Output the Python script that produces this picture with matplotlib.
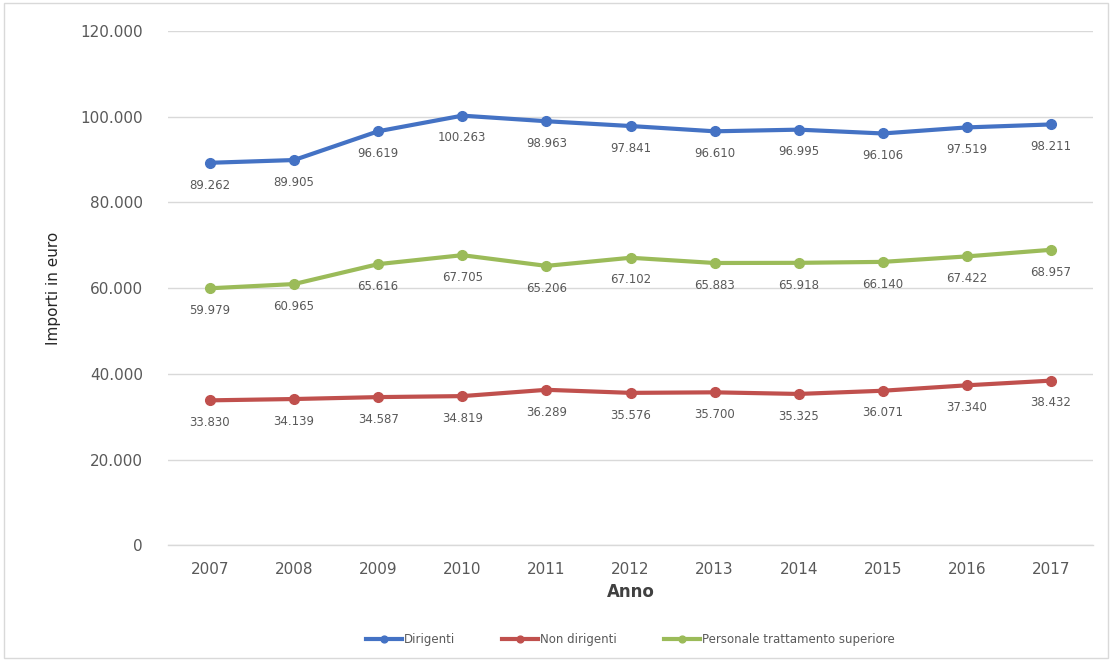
import matplotlib.pyplot as plt
from matplotlib.ticker import FuncFormatter
from matplotlib.patches import Rectangle

anni = ["2007", "2008", "2009", "2010", "2011", "2012", "2013", "2014", "2015", "2016", "2017"]
dirigenti = [89262, 89905, 96619, 100263, 98963, 97841, 96610, 96995, 96106, 97519, 98211]
non_dirigenti = [33830, 34139, 34587, 34819, 36289, 35576, 35700, 35325, 36071, 37340, 38432]
personale_sup = [59979, 60965, 65616, 67705, 65206, 67102, 65883, 65918, 66140, 67422, 68957]

serie = [
    ("Dirigenti", dirigenti, "#4472C4"),
    ("Non dirigenti", non_dirigenti, "#C0504D"),
    ("Personale trattamento superiore", personale_sup, "#9BBB59"),
]

def fmt_it(v):
    return f"{int(round(v)):,}".replace(",", ".")

fig = plt.figure(figsize=(11.12, 6.61), dpi=100)
ax = fig.add_axes([0.151, 0.175, 0.832, 0.778])
fig.patches.append(Rectangle((0.004, 0.004), 0.992, 0.992, transform=fig.transFigure,
                             fill=False, edgecolor="#D9D9D9", linewidth=1))

x = list(range(len(anni)))
for nome, valori, colore in serie:
    ax.plot(x, valori, color=colore, linewidth=3, marker="o", markersize=7, label=nome)
    for xi, v in zip(x, valori):
        ax.annotate(fmt_it(v), (xi, v), xytext=(0, -16), textcoords="offset points",
                    ha="center", va="center", fontsize=8.5, color="#595959")

ax.set_ylim(0, 120000)
ax.set_yticks(range(0, 120001, 20000))
ax.yaxis.set_major_formatter(FuncFormatter(lambda v, p: fmt_it(v)))
ax.set_xlim(-0.5, len(anni) - 0.5)
ax.set_xticks(x)
ax.set_xticklabels(anni)
ax.tick_params(axis="both", length=0, labelsize=11, colors="#595959")
ax.tick_params(axis="y", pad=18)
ax.tick_params(axis="x", pad=12)
ax.grid(axis="y", color="#D9D9D9", linewidth=1)
ax.axhline(0, color="#D9D9D9", linewidth=1, zorder=0.5, clip_on=False)
ax.set_axisbelow(True)
for s in ax.spines.values():
    s.set_visible(False)

ax.set_ylabel("Importi in euro", fontsize=11, color="#262626", labelpad=14)
ax.set_xlabel("Anno", fontsize=12, fontweight="bold", color="#404040", labelpad=4)

ax.legend(loc="upper center", bbox_to_anchor=(0.5, -0.15), ncol=3, frameon=False,
          fontsize=8.5, labelcolor="#595959", handlelength=3, markerscale=0.7,
          columnspacing=4, handletextpad=0.2)

fig.savefig("out.png", dpi=100)
